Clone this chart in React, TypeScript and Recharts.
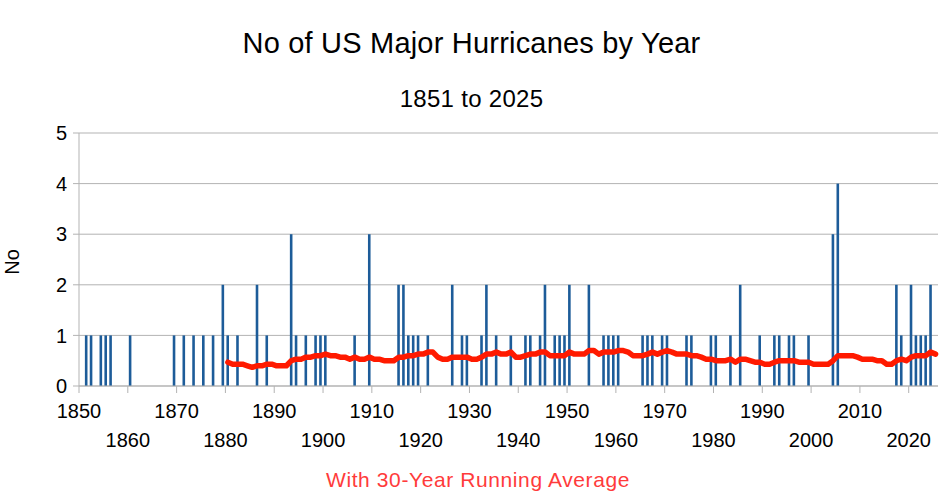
import React from "react";
import { ComposedChart, Bar, Line, XAxis, YAxis, CartesianGrid } from "recharts";

// US major hurricanes per year, 1850 .. 2025 (one row per decade)
const FIRST_YEAR = 1850;
const hurricaneCounts = [
  0, 1, 1, 0, 1, 1, 1, 0, 0, 0, // 1850s
  1, 0, 0, 0, 0, 0, 0, 0, 0, 1, // 1860s
  0, 1, 0, 1, 0, 1, 0, 1, 0, 2, // 1870s
  1, 0, 1, 0, 0, 0, 2, 0, 1, 0, // 1880s
  0, 0, 0, 3, 1, 0, 1, 0, 1, 1, // 1890s
  1, 0, 0, 0, 0, 0, 1, 0, 0, 3, // 1900s
  0, 0, 0, 0, 0, 2, 2, 1, 1, 1, // 1910s
  0, 1, 0, 0, 0, 0, 2, 0, 1, 1, // 1920s
  0, 0, 1, 2, 0, 1, 0, 0, 1, 0, // 1930s
  0, 1, 1, 0, 1, 2, 0, 1, 1, 1, // 1940s
  2, 0, 0, 0, 2, 0, 0, 1, 1, 1, // 1950s
  1, 0, 0, 0, 0, 1, 1, 1, 0, 1, // 1960s
  1, 0, 0, 0, 1, 1, 0, 0, 0, 1, // 1970s
  1, 0, 0, 1, 0, 2, 0, 0, 0, 1, // 1980s
  0, 0, 1, 1, 0, 1, 1, 0, 0, 1, // 1990s
  0, 0, 0, 0, 3, 4, 0, 0, 0, 0, // 2000s
  0, 0, 0, 0, 0, 0, 0, 2, 1, 0, // 2010s
  2, 1, 1, 1, 2, 0,             // 2020s
];

// 30-year running average, 1880 .. 2025
const AVG_START = 1880;
const runningAvg = [
  0.47, 0.43, 0.43, 0.43, 0.40, 0.37, 0.40, 0.40, 0.43, 0.43, // 1880s
  0.40, 0.40, 0.40, 0.50, 0.53, 0.53, 0.57, 0.57, 0.60, 0.60, // 1890s
  0.63, 0.60, 0.60, 0.57, 0.57, 0.53, 0.57, 0.53, 0.53, 0.57, // 1900s
  0.53, 0.53, 0.50, 0.50, 0.50, 0.57, 0.57, 0.60, 0.60, 0.63, // 1910s
  0.63, 0.67, 0.67, 0.57, 0.53, 0.53, 0.57, 0.57, 0.57, 0.57, // 1920s
  0.53, 0.53, 0.57, 0.63, 0.63, 0.67, 0.63, 0.63, 0.67, 0.57, // 1930s
  0.57, 0.60, 0.63, 0.63, 0.67, 0.67, 0.60, 0.60, 0.60, 0.60, // 1940s
  0.67, 0.63, 0.63, 0.63, 0.70, 0.70, 0.63, 0.67, 0.67, 0.67, // 1950s
  0.70, 0.70, 0.67, 0.60, 0.60, 0.60, 0.63, 0.67, 0.63, 0.67, // 1960s
  0.70, 0.67, 0.63, 0.63, 0.63, 0.60, 0.60, 0.57, 0.53, 0.53, // 1970s
  0.50, 0.50, 0.50, 0.53, 0.47, 0.53, 0.53, 0.50, 0.47, 0.47, // 1980s
  0.43, 0.43, 0.47, 0.50, 0.50, 0.50, 0.50, 0.47, 0.47, 0.47, // 1990s
  0.43, 0.43, 0.43, 0.43, 0.50, 0.60, 0.60, 0.60, 0.60, 0.57, // 2000s
  0.53, 0.53, 0.53, 0.50, 0.50, 0.43, 0.43, 0.50, 0.53, 0.50, // 2010s
  0.57, 0.60, 0.60, 0.60, 0.67, 0.63,                         // 2020s
];

const decadeTicks = [
  1850, 1860, 1870, 1880, 1890, 1900, 1910, 1920, 1930,
  1940, 1950, 1960, 1970, 1980, 1990, 2000, 2010, 2020,
];
const yTicks = [0, 1, 2, 3, 4, 5];

const W = 947;
const H = 495;
const PLOT_LEFT = 79;
const PLOT_RIGHT = 9;
const PLOT_TOP = 133;
const X_AXIS_H = 109;
const BAND = (W - PLOT_LEFT - PLOT_RIGHT) / hurricaneCounts.length;

const FONT = '"Liberation Sans", Arial, sans-serif';
const GRID = "#b3b3b3";

const data = hurricaneCounts.map((n, i) => {
  const year = FIRST_YEAR + i;
  const j = year - AVG_START;
  return { year, n, avg: j >= 0 && j < runningAvg.length ? runningAvg[j] : null };
});

// decade labels sit on the category boundary, alternating between two rows
function YearTick(props: any) {
  const { x, y, payload } = props;
  const yr = Number(payload.value);
  const left = x - BAND / 2;
  const lower = ((yr - FIRST_YEAR) / 10) % 2 === 1;
  return (
    <g>
      <line x1={left} x2={left} y1={y} y2={y + 7} stroke={GRID} />
      <text
        x={left}
        y={y + (lower ? 54 : 25)}
        textAnchor="middle"
        dominantBaseline="central"
        fontSize={20}
        fontFamily={FONT}
        fill="#000"
      >
        {yr}
      </text>
    </g>
  );
}

export default function App() {
  return (
    <div style={{ position: "absolute", left: 0, top: 0, width: W, height: H, background: "#fff", fontFamily: FONT }}>
      <div
        style={{
          position: "absolute",
          left: 0,
          width: W - 4,
          top: 27,
          textAlign: "center",
          fontSize: 29,
          letterSpacing: 0.2,
          color: "#000",
        }}
      >
        No of US Major Hurricanes by Year
      </div>
      <div
        style={{
          position: "absolute",
          left: 0,
          width: W - 4,
          top: 85,
          textAlign: "center",
          fontSize: 24,
          letterSpacing: 0.3,
          color: "#000",
        }}
      >
        1851 to 2025
      </div>
      <div
        style={{
          position: "absolute",
          left: 12,
          top: 262,
          fontSize: 20,
          color: "#000",
          transform: "translate(-50%, -50%) rotate(-90deg)",
        }}
      >
        No
      </div>
      <div
        style={{
          position: "absolute",
          left: 0,
          width: 956,
          top: 468,
          textAlign: "center",
          fontSize: 21,
          letterSpacing: 0.6,
          color: "#ff3b3b",
        }}
      >
        With 30-Year Running Average
      </div>

      <div style={{ position: "absolute", left: 0, top: 0 }}>
        <ComposedChart
          width={W}
          height={H}
          data={data}
          margin={{ top: PLOT_TOP, right: PLOT_RIGHT, left: 0, bottom: 0 }}
          barCategoryGap={0}
        >
          <CartesianGrid vertical={false} stroke={GRID} />
          <XAxis
            dataKey="year"
            type="category"
            ticks={decadeTicks}
            interval={0}
            height={X_AXIS_H}
            tickSize={0}
            tickMargin={0}
            tickLine={false}
            axisLine={{ stroke: GRID }}
            tick={<YearTick />}
          />
          <YAxis
            width={PLOT_LEFT}
            domain={[0, 5]}
            ticks={yTicks}
            interval={0}
            tickSize={6}
            tickMargin={6}
            tickLine={{ stroke: GRID }}
            axisLine={{ stroke: GRID }}
            tick={{ fontSize: 20, fill: "#000", fontFamily: FONT }}
          />
          <YAxis
            yAxisId="right"
            orientation="right"
            width={0}
            domain={[0, 5]}
            tick={false}
            tickLine={false}
            axisLine={{ stroke: GRID }}
          />
          <Bar dataKey="n" fill="#1d5c99" barSize={2.6} isAnimationActive={false} />
          <Line
            dataKey="avg"
            stroke="#ff1a00"
            strokeWidth={5.5}
            dot={false}
            activeDot={false}
            strokeLinejoin="round"
            strokeLinecap="round"
            isAnimationActive={false}
          />
        </ComposedChart>
      </div>
    </div>
  );
}
